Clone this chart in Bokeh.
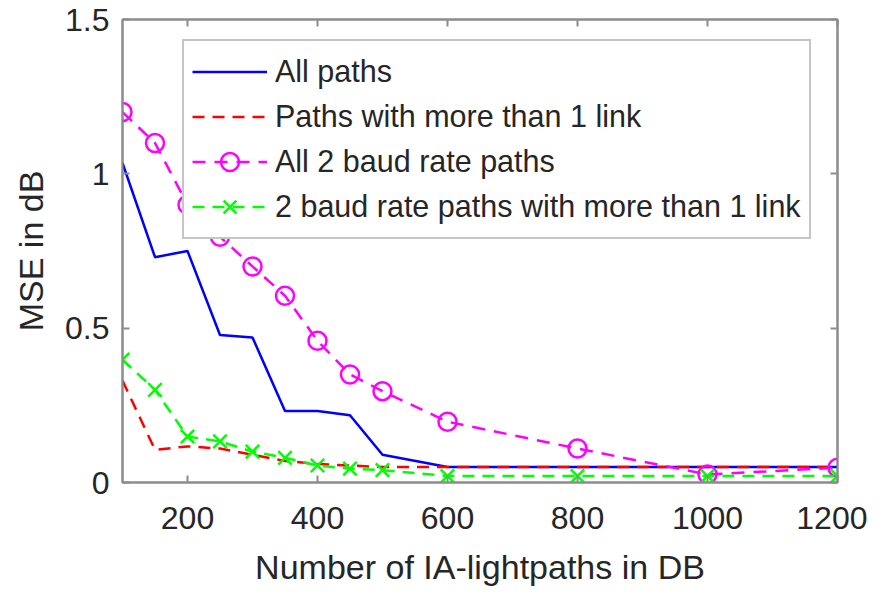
from bokeh.plotting import figure
from bokeh.models import Range1d, LinearAxis, FixedTicker, Legend
from bokeh.embed import file_html
from bokeh.resources import INLINE

# ---- data ----
n_paths = [100, 150, 200, 250, 300, 350, 400, 450, 500, 600, 800, 1000, 1200]
all_paths = [1.035, 0.73, 0.75, 0.478, 0.47, 0.232, 0.232, 0.218, 0.09, 0.05, 0.05, 0.05, 0.05]
paths_multi_link = [0.33, 0.106, 0.117, 0.11, 0.09, 0.07, 0.06, 0.055, 0.05, 0.05, 0.05, 0.05, 0.05]
all_2baud = [1.2, 1.1, 0.9, 0.796, 0.7, 0.605, 0.459, 0.35, 0.296, 0.197, 0.11, 0.026, 0.048]
baud2_multi_link = [0.398, 0.3, 0.149, 0.133, 0.1, 0.08, 0.055, 0.045, 0.04, 0.021, 0.021, 0.021, 0.021]

x_ticks = [200, 400, 600, 800, 1000, 1200]
y_ticks = [0, 0.5, 1, 1.5]
y_tick_labels = ["0", "0.5", "1", "1.5"]

labels = ["All paths", "Paths with more than 1 link", "All 2 baud rate paths",
          "2 baud rate paths with more than 1 link"]

FONT = "Liberation Sans"
AX_COL = "#8c8c8c"
TXT_COL = "#262626"

p = figure(width=867, height=588, output_backend="svg", toolbar_location=None,
           x_range=Range1d(100, 1200), y_range=Range1d(0, 1.5),
           min_border_left=122, min_border_right=30, min_border_top=19, min_border_bottom=104)
p.background_fill_color = "white"
p.border_fill_color = "white"
p.outline_line_color = AX_COL
p.outline_line_width = 2
p.grid.visible = False

def style_axis(ax, show_labels=True):
    ax.axis_line_color = AX_COL
    ax.axis_line_width = 2
    ax.major_tick_line_color = AX_COL
    ax.major_tick_line_width = 2
    ax.major_tick_in = 7
    ax.major_tick_out = 0
    ax.minor_tick_line_color = None
    if show_labels:
        ax.major_label_text_font = FONT
        ax.major_label_text_font_size = "32px"
        ax.major_label_text_color = TXT_COL
        ax.axis_label_text_font = FONT
        ax.axis_label_text_font_size = "34px"
        ax.axis_label_text_font_style = "normal"
        ax.axis_label_text_color = TXT_COL
    else:
        ax.major_label_text_font_size = "1px"
        ax.major_label_text_color = None
        ax.major_label_standoff = 0

xa = p.xaxis[0]
xa.ticker = FixedTicker(ticks=x_ticks)
xa.axis_label = "Number of IA-lightpaths in DB"
style_axis(xa)
xa.major_label_standoff = 24
xa.axis_label_standoff = 16

ya = p.yaxis[0]
ya.ticker = FixedTicker(ticks=y_ticks)
ya.major_label_overrides = {t: s for t, s in zip(y_ticks, y_tick_labels)}
ya.axis_label = "MSE in dB"
style_axis(ya)
ya.major_label_standoff = 13
ya.axis_label_standoff = 12

top = LinearAxis(ticker=FixedTicker(ticks=x_ticks))
top.major_label_overrides = {t: "" for t in x_ticks}
style_axis(top, show_labels=False)
p.add_layout(top, "above")

right = LinearAxis(ticker=FixedTicker(ticks=y_ticks))
right.major_label_overrides = {t: "" for t in y_ticks}
style_axis(right, show_labels=False)
p.add_layout(right, "right")

r1 = p.line(n_paths, all_paths, line_color="#0000FF", line_width=2.5)
r2 = p.line(n_paths, paths_multi_link, line_color="#FF0000", line_width=2.5, line_dash="12 8")
r3 = p.line(n_paths, all_2baud, line_color="#FF00FF", line_width=2.5, line_dash="13 9")
r3m = p.scatter(n_paths, all_2baud, marker="circle", size=18, fill_color=None,
                line_color="#FF00FF", line_width=2.5)
r4 = p.line(n_paths, baud2_multi_link, line_color="#00FF00", line_width=2.5, line_dash="12 8")
r4m = p.scatter(n_paths, baud2_multi_link, marker="x", size=19,
                line_color="#00FF00", line_width=2.5)

legend = Legend(items=[(labels[0], [r1]), (labels[1], [r2]), (labels[2], [r3, r3m]),
                       (labels[3], [r4, r4m])],
                location=(60, 243), margin=0, padding=8, spacing=0,
                glyph_width=75, glyph_height=45, label_height=45, label_standoff=8,
                label_text_font=FONT, label_text_font_size="30.5px", label_text_color=TXT_COL,
                border_line_color=AX_COL, border_line_width=2,
                background_fill_color="white", background_fill_alpha=1)
p.add_layout(legend, "center")

open("out.html", "w").write(file_html(p, INLINE))
